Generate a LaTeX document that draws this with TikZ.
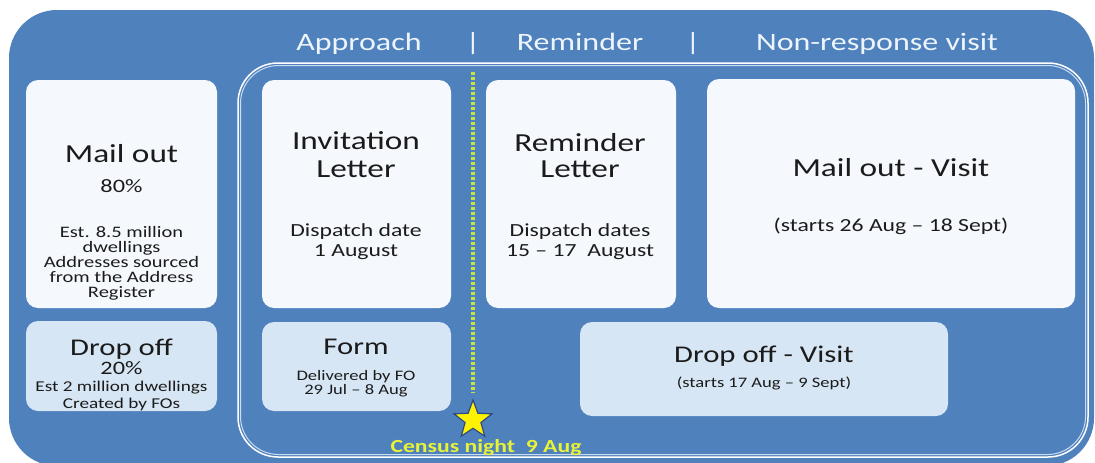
\documentclass[tikz,border=0pt]{standalone}
\usepackage{fontspec}
\setmainfont[FakeStretch=1.28]{Carlito}
\usepackage{xcolor}
\usetikzlibrary{shapes.geometric,positioning}

\definecolor{band}{HTML}{4F81BD}
\definecolor{paper}{HTML}{F5F9FD}
\definecolor{pale}{HTML}{D6E6F4}
\definecolor{ink}{HTML}{1B1B1B}
\definecolor{headtext}{HTML}{EEF4FB}
\definecolor{rim}{HTML}{C9DDF2}
\definecolor{dotgreen}{HTML}{C8E43C}
\definecolor{nightyellow}{HTML}{E8F236}
\definecolor{starblue}{HTML}{2E4A86}

\begin{document}
\begin{tikzpicture}[x=1pt, y=-1pt,
    panel/.style={rounded corners=12pt, fill=paper, inner sep=0pt},
    palepanel/.style={panel, fill=pale},
    head/.style={anchor=base, inner sep=0pt, text=headtext, font=\fontsize{25}{30}\selectfont},
    big/.style={anchor=base, inner sep=0pt, text=ink, font=\fontsize{26}{30}\selectfont},
    mid/.style={anchor=base, inner sep=0pt, text=ink, font=\fontsize{24}{28}\selectfont},
    note/.style={anchor=base, inner sep=0pt, text=ink, align=center}]
    \useasboundingbox (0,0) rectangle (1095,463);
    \fill[white] (0,0) rectangle (1095,463);

    % Blue band and the white frame round the phases
    \fill[band, rounded corners=48pt] (9,10) rectangle (1094,466);
    \draw[white, line width=1.5pt, rounded corners=40pt] (238,63) rectangle (1088,457);
    \draw[rim, line width=1pt, rounded corners=38pt] (240.5,65.5) rectangle (1085.5,454.5);

    % Phase headings
    \node[head] (approach) at (359,50) {Approach};
    \node[head] (barA) at (473,50) {|};
    \node[head] (reminder) at (580,50) {Reminder};
    \node[head] (barB) at (693,50) {|};
    \node[head] (nonresp) at (877,50) {Non-response visit};

    % Mail out / drop off split
    \node[panel, minimum width=191pt, minimum height=228pt] (mailout) at (121.5,194) {};
    \node[big] (mailoutT) at (121.5,162) {Mail out};
    \node[note, font=\fontsize{19}{20}\selectfont] (mailoutP) at (121.5,192) {80\%};
    \node[note, font=\fontsize{16}{15}\selectfont] (mailoutD) at (121.5,297.5)
        {Est. 8.5 million\\dwellings\\Addresses sourced\\from the Address\\Register};

    \node[palepanel, minimum width=191pt, minimum height=90pt] (dropoff) at (121.5,366) {};
    \node[mid] (dropoffT) at (121.5,355) {Drop off};
    \node[note, font=\fontsize{19}{20}\selectfont] (dropoffP) at (121.5,374) {20\%};
    \node[note, font=\fontsize{15}{16.5}\selectfont] (dropoffD) at (121.5,408)
        {Est 2 million dwellings\\Created by FOs};

    % Approach
    \node[panel, minimum width=189pt, minimum height=228pt] (invite) at (356.5,194) {};
    \node[big, align=center, font=\fontsize{26}{28}\selectfont] (inviteT) at (356,177) {Invitation\\Letter};
    \node[note, font=\fontsize{18.5}{20}\selectfont] (inviteD) at (356,256.5) {Dispatch date\\1 August};

    \node[palepanel, minimum width=189pt, minimum height=89pt] (form) at (356.5,366.5) {};
    \node[mid] (formT) at (356,354) {Form};
    \node[note, font=\fontsize{14.5}{14}\selectfont] (formD) at (356,394) {Delivered by FO\\29 Jul -- 8 Aug};

    % Reminder
    \node[panel, minimum width=190pt, minimum height=228pt] (remind) at (581,194) {};
    \node[big, align=center, font=\fontsize{26}{26}\selectfont] (remindT) at (580,177) {Reminder\\Letter};
    \node[note, font=\fontsize{18.5}{20}\selectfont] (remindD) at (580,256.5) {Dispatch dates\\15 -- 17\ \ August};

    % Non-response visits
    \node[panel, minimum width=368pt, minimum height=229pt] (mailvisit) at (891,193.5) {};
    \node[big] (mailvisitT) at (891,176.5) {Mail out - Visit};
    \node[note, font=\fontsize{18.5}{20}\selectfont] (mailvisitD) at (891,231) {(starts 26 Aug -- 18 Sept)};

    \node[palepanel, minimum width=368pt, minimum height=94pt] (dropvisit) at (764,369) {};
    \node[mid] (dropvisitT) at (764,362) {Drop off - Visit};
    \node[note, font=\fontsize{14.5}{16}\selectfont] (dropvisitD) at (764,387) {(starts 17 Aug -- 9 Sept)};

    % Census night marker
    \coordinate (dotTop) at (473,72);
    \coordinate (dotEnd) at (473,393);
    \draw[dotgreen, line width=3.5pt, dash pattern=on 3pt off 2pt] (dotTop) -- (dotEnd);
    \node[star, star points=5, star point ratio=2.4, minimum size=40pt, inner sep=0pt,
        fill=yellow, draw=starblue, line width=1.2pt] (census) at (473,420) {};
    \node[anchor=base, inner sep=0pt, text=nightyellow, font=\bfseries\fontsize{18.5}{20}\selectfont]
        (censusT) at (486,452) {Census night\ \ 9 Aug};
\end{tikzpicture}
\end{document}
